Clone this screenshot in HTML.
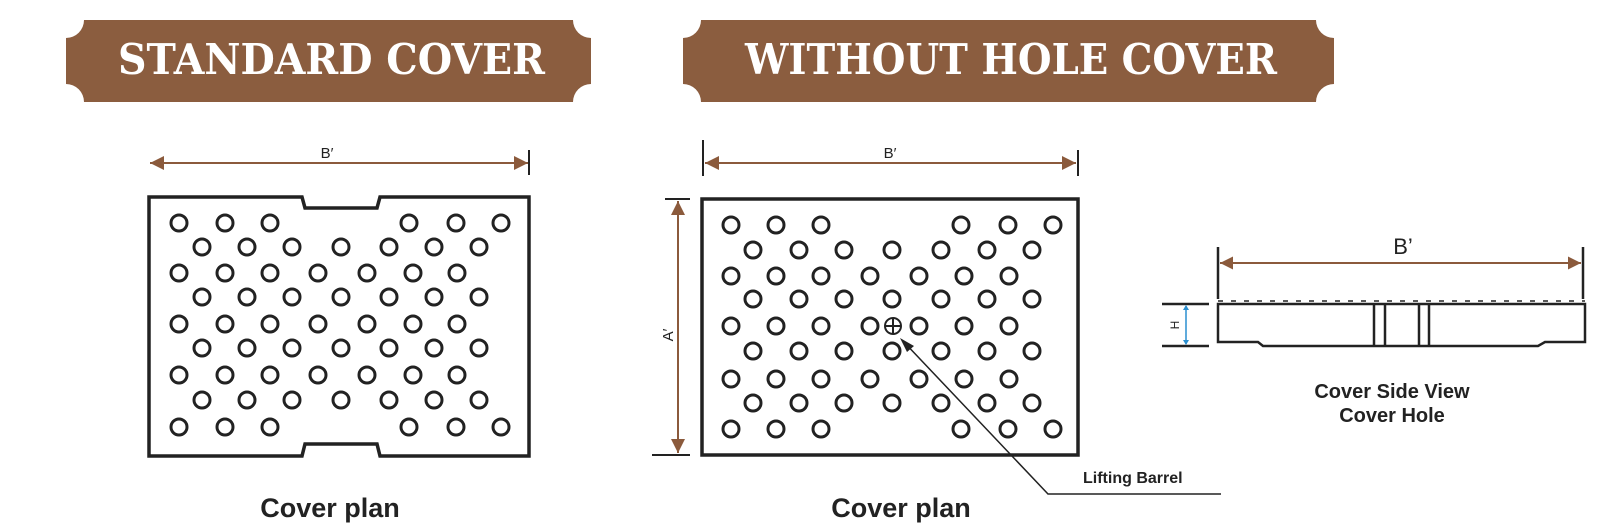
<!DOCTYPE html>
<html><head><meta charset="utf-8"><style>
html,body{margin:0;padding:0;background:#fff;}
svg{display:block;}
</style></head><body>
<svg width="1600" height="524" viewBox="0 0 1600 524" xmlns="http://www.w3.org/2000/svg">
<defs>
<marker id="ah" viewBox="0 0 10 10" refX="10" refY="5" markerWidth="26" markerHeight="14" markerUnits="userSpaceOnUse" orient="auto-start-reverse" style="overflow:visible">
<path d="M0,0 L10,5 L0,10 Z" fill="#8B5A3C"/></marker>
<marker id="ah2" viewBox="0 0 10 10" refX="10" refY="5" markerWidth="22" markerHeight="13" markerUnits="userSpaceOnUse" orient="auto-start-reverse" style="overflow:visible">
<path d="M0,0 L10,5 L0,10 Z" fill="#8B5A3C"/></marker>
<g id="LA" fill="none" stroke="#222" stroke-width="3">
<circle cx="179" r="8"/><circle cx="225" r="8"/><circle cx="270" r="8"/><circle cx="409" r="8"/><circle cx="456" r="8"/><circle cx="501" r="8"/></g>
<g id="LB" fill="none" stroke="#222" stroke-width="3">
<circle cx="202" r="8"/><circle cx="247" r="8"/><circle cx="292" r="8"/><circle cx="341" r="8"/><circle cx="389" r="8"/><circle cx="434" r="8"/><circle cx="479" r="8"/></g>
<g id="LC" fill="none" stroke="#222" stroke-width="3">
<circle cx="179" r="8"/><circle cx="225" r="8"/><circle cx="270" r="8"/><circle cx="318" r="8"/><circle cx="367" r="8"/><circle cx="413" r="8"/><circle cx="457" r="8"/></g>
<g id="MA" fill="none" stroke="#222" stroke-width="3">
<circle cx="731" r="8"/><circle cx="776" r="8"/><circle cx="821" r="8"/><circle cx="961" r="8"/><circle cx="1008" r="8"/><circle cx="1053" r="8"/></g>
<g id="MB" fill="none" stroke="#222" stroke-width="3">
<circle cx="753" r="8"/><circle cx="799" r="8"/><circle cx="844" r="8"/><circle cx="892" r="8"/><circle cx="941" r="8"/><circle cx="987" r="8"/><circle cx="1032" r="8"/></g>
<g id="MC" fill="none" stroke="#222" stroke-width="3">
<circle cx="731" r="8"/><circle cx="776" r="8"/><circle cx="821" r="8"/><circle cx="870" r="8"/><circle cx="919" r="8"/><circle cx="964" r="8"/><circle cx="1009" r="8"/></g>
</defs>

<path d="M84,20 H573 A18,18 0 0 0 591,38 V84 A18,18 0 0 0 573,102 H84 A18,18 0 0 0 66,84 V38 A18,18 0 0 0 84,20 Z" fill="#8B5D3F"/>
<text x="118" y="74" textLength="427" lengthAdjust="spacingAndGlyphs" font-family="'DejaVu Serif','Liberation Serif',serif" font-weight="bold" font-size="42" fill="#fff">STANDARD COVER</text>
<path d="M701,20 H1316 A18,18 0 0 0 1334,38 V84 A18,18 0 0 0 1316,102 H701 A18,18 0 0 0 683,84 V38 A18,18 0 0 0 701,20 Z" fill="#8B5D3F"/>
<text x="745" y="74" textLength="532" lengthAdjust="spacingAndGlyphs" font-family="'DejaVu Serif','Liberation Serif',serif" font-weight="bold" font-size="42" fill="#fff">WITHOUT HOLE COVER</text>

<line x1="150" y1="163" x2="528" y2="163" stroke="#8B5A3C" stroke-width="2" marker-start="url(#ah)" marker-end="url(#ah)"/>
<line x1="529" y1="150" x2="529" y2="175" stroke="#222" stroke-width="2"/>
<text x="327" y="158" text-anchor="middle" font-family="'Liberation Sans',sans-serif" font-size="15" fill="#222">B′</text>
<path d="M149,197 H302 L305,208 H377 L380,197 H529 V456 H380 L377,444 H305 L302,456 H149 Z" fill="none" stroke="#222" stroke-width="3.5"/>
<use href="#LA" y="223"/><use href="#LB" y="247"/><use href="#LC" y="273"/><use href="#LB" y="297"/><use href="#LC" y="324"/><use href="#LB" y="348"/><use href="#LC" y="375"/><use href="#LB" y="400"/><use href="#LA" y="427"/>
<text x="330" y="517" text-anchor="middle" font-family="'Liberation Sans',sans-serif" font-weight="bold" font-size="27" fill="#222">Cover plan</text>

<line x1="705" y1="163" x2="1076" y2="163" stroke="#8B5A3C" stroke-width="2" marker-start="url(#ah)" marker-end="url(#ah)"/>
<line x1="703" y1="140" x2="703" y2="176" stroke="#222" stroke-width="2"/>
<line x1="1078" y1="150" x2="1078" y2="176" stroke="#222" stroke-width="2"/>
<text x="890" y="158" text-anchor="middle" font-family="'Liberation Sans',sans-serif" font-size="15" fill="#222">B′</text>
<line x1="678" y1="201" x2="678" y2="453" stroke="#8B5A3C" stroke-width="2" marker-start="url(#ah)" marker-end="url(#ah)"/>
<line x1="665" y1="199" x2="690" y2="199" stroke="#222" stroke-width="2"/>
<line x1="652" y1="455" x2="690" y2="455" stroke="#222" stroke-width="2"/>
<text transform="translate(673,335) rotate(-90)" text-anchor="middle" font-family="'Liberation Sans',sans-serif" font-size="15" fill="#222">A′</text>
<rect x="702" y="199" width="376" height="256" fill="none" stroke="#222" stroke-width="3.5"/>
<use href="#MA" y="225"/><use href="#MB" y="250"/><use href="#MC" y="276"/><use href="#MB" y="299"/><use href="#MC" y="326"/><use href="#MB" y="351"/><use href="#MC" y="379"/><use href="#MB" y="403"/><use href="#MA" y="429"/>
<g stroke="#222" stroke-width="2" fill="none"><circle cx="893" cy="326" r="8"/><line x1="885" y1="326" x2="901" y2="326"/><line x1="893" y1="318" x2="893" y2="334"/></g>
<polyline points="902,340 1048,494 1221,494" fill="none" stroke="#222" stroke-width="1.5"/>
<path d="M900,338 L914,346 L907,352 Z" fill="#222"/>
<text x="1083" y="483" font-family="'Liberation Sans',sans-serif" font-weight="bold" font-size="16" fill="#222">Lifting Barrel</text>
<text x="901" y="517" text-anchor="middle" font-family="'Liberation Sans',sans-serif" font-weight="bold" font-size="27" fill="#222">Cover plan</text>

<line x1="1220" y1="263" x2="1581" y2="263" stroke="#8B5A3C" stroke-width="2" marker-start="url(#ah2)" marker-end="url(#ah2)"/>
<line x1="1218" y1="247" x2="1218" y2="299" stroke="#222" stroke-width="2.5"/>
<line x1="1583" y1="247" x2="1583" y2="299" stroke="#222" stroke-width="2.5"/>
<text x="1403" y="254" text-anchor="middle" font-family="'Liberation Sans',sans-serif" font-size="22" fill="#222">B’</text>
<line x1="1218" y1="301" x2="1585" y2="301" stroke="#222" stroke-width="1.5" stroke-dasharray="5,8"/>
<path d="M1218,304 H1585 V342 H1545 L1538,346 H1263 L1258,342 H1218 Z" fill="none" stroke="#222" stroke-width="2.5"/>
<g stroke="#222" stroke-width="2.5"><line x1="1374" y1="304" x2="1374" y2="346"/><line x1="1385" y1="304" x2="1385" y2="346"/><line x1="1419" y1="304" x2="1419" y2="346"/><line x1="1429" y1="304" x2="1429" y2="346"/>
<line x1="1162" y1="304" x2="1209" y2="304"/><line x1="1162" y1="346" x2="1209" y2="346"/></g>
<line x1="1186" y1="306" x2="1186" y2="344" stroke="#2A8FD0" stroke-width="1.5"/>
<path d="M1183,310 L1186,305 L1189,310 Z M1183,340 L1186,345 L1189,340 Z" fill="#2A8FD0"/>
<text transform="translate(1179,325) rotate(-90)" text-anchor="middle" font-family="'Liberation Sans',sans-serif" font-size="12" fill="#222">H</text>
<text x="1392" y="398" text-anchor="middle" font-family="'Liberation Sans',sans-serif" font-weight="bold" font-size="20" fill="#222">Cover Side View</text>
<text x="1392" y="422" text-anchor="middle" font-family="'Liberation Sans',sans-serif" font-weight="bold" font-size="20" fill="#222">Cover Hole</text>
</svg>
</body></html>
